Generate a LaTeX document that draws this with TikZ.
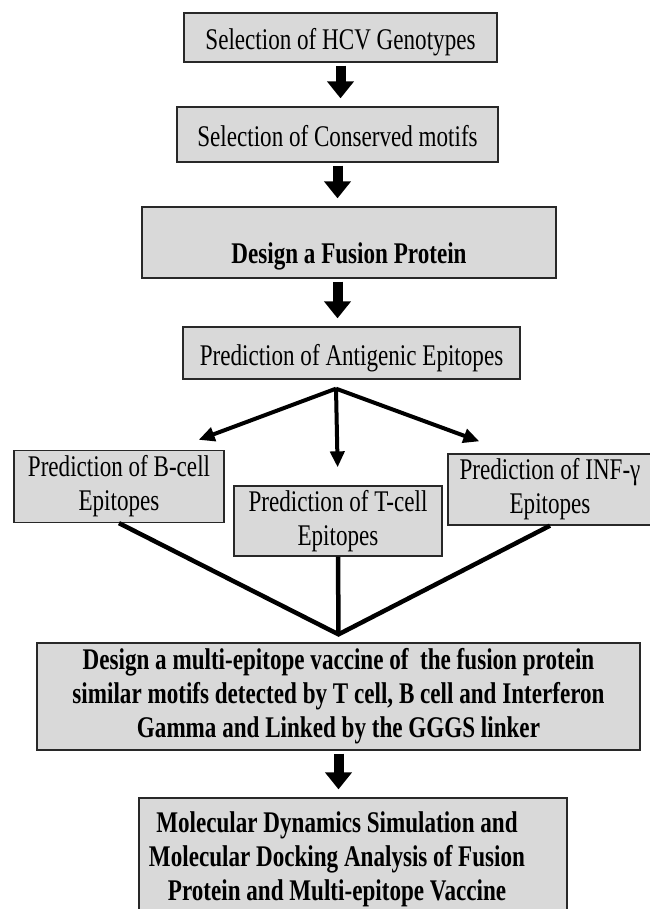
\documentclass[tikz,border=0pt]{standalone}
\usepackage{fontspec}
\setmainfont{Liberation Serif}[FakeStretch=0.77]
\usepackage{tikz}
\usetikzlibrary{arrows.meta, positioning, calc}
\definecolor{boxgray}{RGB}{217, 217, 217}
\definecolor{edgegray}{RGB}{40, 40, 40}

\begin{document}
\begin{tikzpicture}[x=1pt, y=-1pt,
    box/.style={draw=edgegray, line width=1.3pt, fill=boxgray, inner sep=0pt,
                align=center, font=\fontsize{30}{34}\selectfont},
    onebox/.style={box, text height=25pt, text depth=0pt},
    bigarrow/.style={line width=10pt, -{Triangle[width=26pt, length=17pt]},
                shorten <=3pt, shorten >=8pt},
    fork/.style={line width=4pt, -{Triangle[width=14pt, length=16pt]}},
    merge/.style={line width=4.5pt, line join=miter}
]
    \useasboundingbox (0,0) rectangle (649,909);

    \node[onebox, minimum width=313pt, minimum height=49pt] (genotypes) at (340.5,37.5) {Selection of HCV Genotypes};
    \node[onebox, minimum width=321pt, minimum height=55pt] (motifs) at (337.5,134.5) {Selection of Conserved motifs};
    \node[onebox, text height=41pt, minimum width=414pt, minimum height=71pt] (fusion) at (349,242.5) {\bfseries Design a Fusion Protein};
    \node[onebox, minimum width=337pt, minimum height=52pt] (antigenic) at (351.5,353) {Prediction of Antigenic Epitopes};

    \node[box, minimum width=210pt, minimum height=72pt] (bcell) at (119,486.5) {Prediction of B-cell\\Epitopes};
    \node[box, minimum width=208pt, minimum height=70pt] (tcell) at (338,521) {Prediction of T-cell\\Epitopes};
    \node[box, minimum width=204pt, minimum height=71pt] (infcell) at (550,489.5) {Prediction of INF-γ\\Epitopes};

    \node[box, font=\fontsize{30}{34}\selectfont\bfseries, minimum width=603pt, minimum height=107pt] (vaccine) at (338.5,696.5)
        {Design a multi-epitope vaccine of~ the fusion protein\\similar motifs detected by T cell, B cell and Interferon\\Gamma and Linked by the GGGS linker};
    \node[box, minimum width=428pt, minimum height=123pt] (dynamics) at (353,859.5) {};
    \node[align=center, inner sep=0pt, font=\fontsize{30}{34}\selectfont\bfseries] (dynamicstext) at (337,859.5)
        {Molecular Dynamics Simulation and\\Molecular Docking Analysis of Fusion\\Protein and Multi-epitope Vaccine};

    \draw[bigarrow] (genotypes.south) -- (genotypes.south |- motifs.north);
    \draw[bigarrow] (motifs.south) -- (motifs.south |- fusion.north);
    \draw[bigarrow] (fusion.south -| motifs.south) -- (antigenic.north -| motifs.south);

    \coordinate (split) at ($(antigenic.south)+(-15.5,9)$);
    \draw[fork] (split) -- ($(bcell.north east)+(-26,-10)$);
    \draw[fork, shorten >=18pt] (split) -- (tcell.north);
    \draw[fork] (split) -- ($(infcell.north west)+(32,-12)$);

    \coordinate (meet) at ($(vaccine.north)+(0,-8)$);
    \draw[merge] (bcell.south) -- (meet) -- (infcell.south);
    \draw[merge] (tcell.south) -- (meet);

    \draw[bigarrow] (vaccine.south) -- (vaccine.south |- dynamics.north);
\end{tikzpicture}
\end{document}
